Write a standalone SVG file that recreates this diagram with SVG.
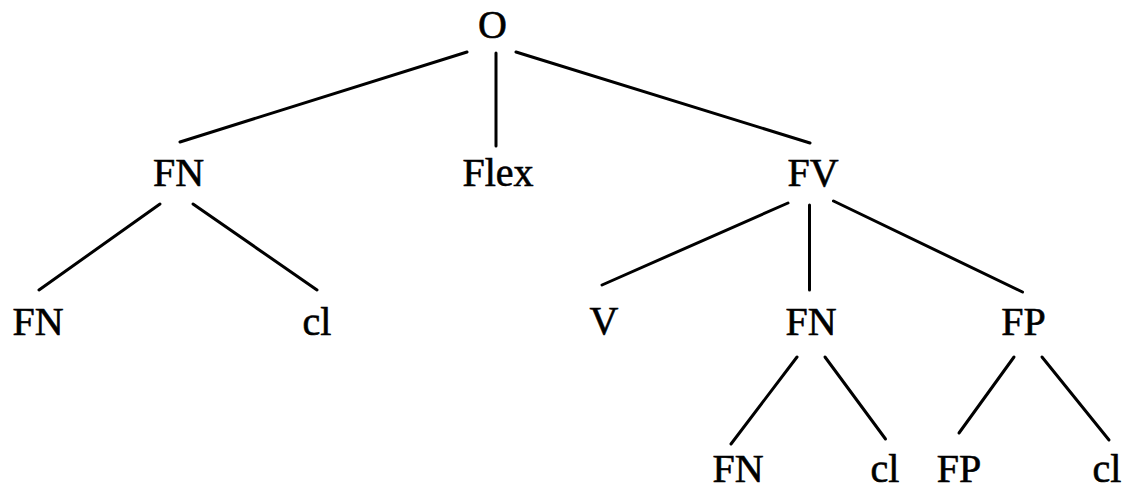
<svg xmlns="http://www.w3.org/2000/svg" width="1137" height="485" viewBox="0 0 1137 485">
<style>
text{font-family:"Liberation Serif","Times New Roman",serif;font-size:40px;fill:#000;stroke:#000;stroke-width:0.6;text-anchor:middle}
line{stroke:#000;stroke-width:3;stroke-linecap:round}
</style>
<rect width="1137" height="485" fill="#fff"/>
<g id="connectors">
<line x1="467" y1="52" x2="180" y2="142"/>
<line x1="496" y1="53" x2="496" y2="146"/>
<line x1="516" y1="52" x2="810" y2="143"/>
<line x1="160" y1="204" x2="39" y2="290"/>
<line x1="193" y1="204" x2="317" y2="290"/>
<line x1="788" y1="203" x2="602" y2="285"/>
<line x1="809.5" y1="205" x2="809.5" y2="290"/>
<line x1="833.5" y1="201" x2="1022.5" y2="292"/>
<line x1="797" y1="357" x2="731" y2="444"/>
<line x1="825" y1="357" x2="885.5" y2="439"/>
<line x1="1014" y1="357" x2="959" y2="433"/>
<line x1="1042" y1="357" x2="1109" y2="440"/>
</g>
<g id="n-O"><text x="492.5" y="38">O</text></g>
<g id="n-FN1"><text x="178.5" y="186">FN</text></g>
<g id="n-Flex"><text x="498" y="186">Flex</text></g>
<g id="n-FV"><text x="813" y="186">FV</text></g>
<g id="n-FN2"><text x="38" y="335">FN</text></g>
<g id="n-cl1"><text x="317" y="335">cl</text></g>
<g id="n-V"><text x="604" y="334">V</text></g>
<g id="n-FN3"><text x="811" y="335">FN</text></g>
<g id="n-FP1"><text x="1023.5" y="335">FP</text></g>
<g id="n-FN4"><text x="738" y="482">FN</text></g>
<g id="n-cl2"><text x="885" y="482">cl</text></g>
<g id="n-FP2"><text x="959" y="482">FP</text></g>
<g id="n-cl3"><text x="1107" y="482">cl</text></g>
</svg>
